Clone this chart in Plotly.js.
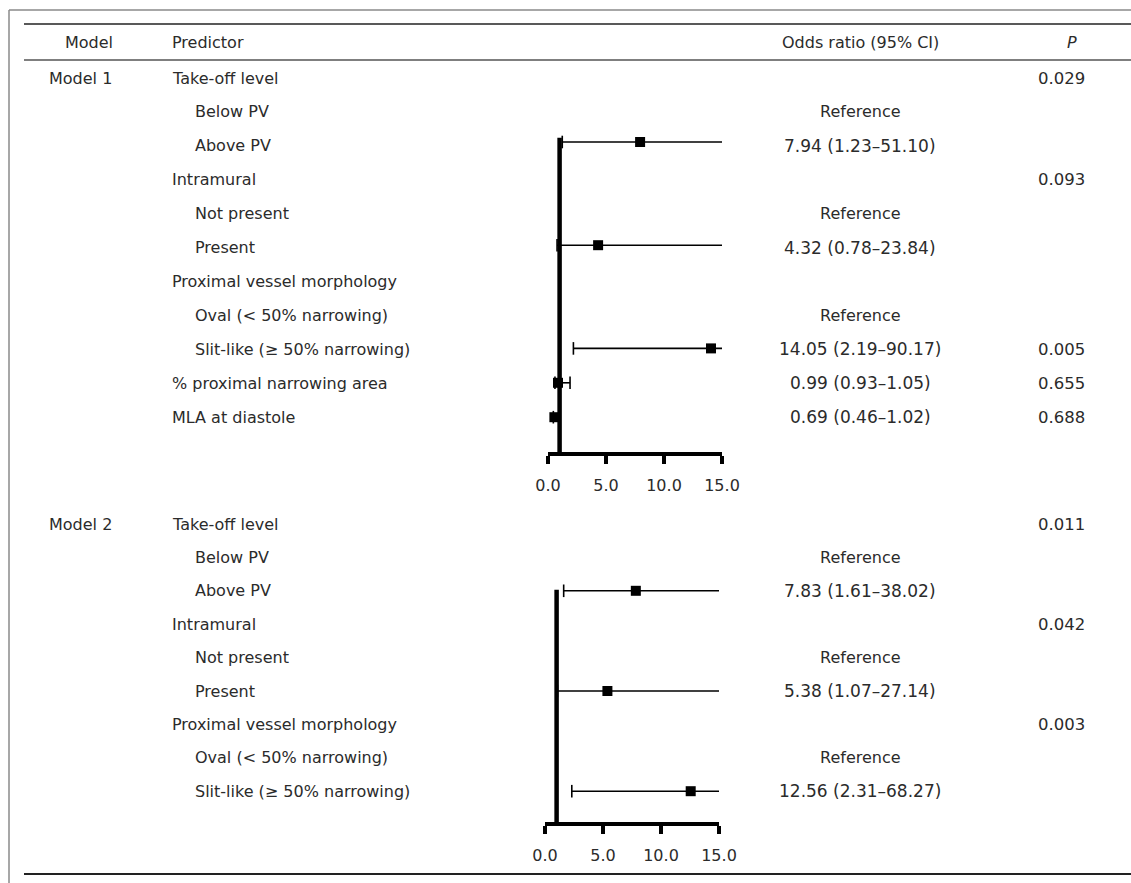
<!DOCTYPE html>
<html>
<head>
<meta charset="utf-8">
<script src="https://cdn.plot.ly/plotly-3.0.1.min.js"></script>
<style>
html,body{margin:0;padding:0;background:#fff;}
#chart{width:1131px;height:883px;}
</style>
</head>
<body>
<div id="chart"></div>
<script>
// ---------- DATA ----------
const headers = ["Model", "Predictor", "Odds ratio (95% CI)", "P"];

const m1Name = "Model 1";
const m1Rows = ["Take-off level", "Below PV", "Above PV", "Intramural", "Not present", "Present",
  "Proximal vessel morphology", "Oval (< 50% narrowing)", "Slit-like (≥ 50% narrowing)",
  "% proximal narrowing area", "MLA at diastole"];
const m1Indent = [0, 1, 1, 0, 1, 1, 0, 1, 1, 0, 0];
const m1OrText = ["", "Reference", "7.94 (1.23–51.10)", "", "Reference", "4.32 (0.78–23.84)", "",
  "Reference", "14.05 (2.19–90.17)", "0.99 (0.93–1.05)", "0.69 (0.46–1.02)"];
const m1P = ["0.029", "", "", "0.093", "", "", "", "", "0.005", "0.655", "0.688"];
// plotted estimates (as drawn in the figure)
const m1PlotRow = [2, 5, 8, 9, 10];
const m1OR = [7.94, 4.32, 14.05, 0.86, 0.55];
const m1Lo = [1.23, 0.78, 2.19, 0.6, 0.46];
const m1Hi = [51.10, 23.84, 90.17, 1.9, 1.02];

const m2Name = "Model 2";
const m2Rows = ["Take-off level", "Below PV", "Above PV", "Intramural", "Not present", "Present",
  "Proximal vessel morphology", "Oval (< 50% narrowing)", "Slit-like (≥ 50% narrowing)"];
const m2Indent = [0, 1, 1, 0, 1, 1, 0, 1, 1];
const m2OrText = ["", "Reference", "7.83 (1.61–38.02)", "", "Reference", "5.38 (1.07–27.14)", "",
  "Reference", "12.56 (2.31–68.27)"];
const m2P = ["0.011", "", "", "0.042", "", "", "0.003", "", ""];
const m2PlotRow = [2, 5, 8];
const m2OR = [7.83, 5.38, 12.56];
const m2Lo = [1.61, 1.07, 2.31];
const m2Hi = [38.02, 27.14, 68.27];

const tickVals = [0, 5, 10, 15];
const tickText = ["0.0", "5.0", "10.0", "15.0"];
const refValue = 1;

// ---------- LAYOUT HELPERS ----------
const W = 1131, H = 883;
const px = v => v / W;
const py = v => 1 - v / H;
const FONT = "DejaVu Sans, Verdana, sans-serif";
const TXT = "#2b2b2b";
const FS = 16;
const xMax = tickVals[tickVals.length - 1];

// text row mapping (pixels)
const m1TextY = i => 78 + 33.9 * i;
const m2TextY = i => 524 + 33.4 * i;
// forest mapping (pixels per row) used to set axis ranges
const f1 = {y0: 73.2, step: 34.4, top: 100, bottom: 452, refTop: 1.88};
const f2 = {y0: 524, step: 33.4, top: 560, bottom: 822, refTop: 1.97};

const annotations = [];
function addText(text, x, y, anchor, size) {
  annotations.push({
    text: text, xref: "paper", yref: "paper", x: px(x), y: py(y),
    xanchor: anchor, yanchor: "middle", showarrow: false,
    font: {family: FONT, size: size || FS, color: TXT}
  });
}
// headers
addText(headers[0], 63, 43, "left");
addText(headers[1], 170, 43, "left");
addText(headers[2], 860, 43, "center");
addText("<i>" + headers[3] + "</i>", 1072, 43, "center");

function addModel(name, rows, indent, orText, pvals, yMap) {
  addText(name, 47, yMap(0), "left");
  rows.forEach((r, i) => {
    const y = yMap(i);
    addText(r, indent[i] ? 193 : 170, y, "left");
    if (orText[i]) addText(orText[i], 860, y, "center", orText[i] === "Reference" ? FS : 17);
    if (pvals[i]) addText(pvals[i], 1061, y, "center", 16.5);
  });
}
addModel(m1Name, m1Rows, m1Indent, m1OrText, m1P, m1TextY);
addModel(m2Name, m2Rows, m2Indent, m2OrText, m2P, m2TextY);

// ---------- TRACES ----------
function forestTraces(rows, or, lo, hi, xa, ya) {
  const lx = [], ly = [], cx = [], cy = [];
  rows.forEach((r, i) => {
    const l = Math.max(lo[i], 0), h = Math.min(hi[i], xMax);
    lx.push(l, h, null); ly.push(r, r, null);
    if (lo[i] >= 0) { cx.push(lo[i]); cy.push(r); }
    if (hi[i] <= xMax) { cx.push(hi[i]); cy.push(r); }
  });
  return [
    {x: lx, y: ly, xaxis: xa, yaxis: ya, mode: "lines", type: "scatter",
     line: {color: "#000", width: 1.6}, hoverinfo: "skip", cliponaxis: false},
    {x: cx, y: cy, xaxis: xa, yaxis: ya, mode: "markers", type: "scatter",
     marker: {symbol: "line-ns", size: 9, line: {color: "#000", width: 1.6}},
     hoverinfo: "skip", cliponaxis: false},
    {x: or, y: rows, xaxis: xa, yaxis: ya, mode: "markers", type: "scatter",
     marker: {symbol: "square", size: 10, color: "#000"}, cliponaxis: false}
  ];
}
const traces = [].concat(
  forestTraces(m1PlotRow, m1OR, m1Lo, m1Hi, "x", "y"),
  forestTraces(m2PlotRow, m2OR, m2Lo, m2Hi, "x2", "y2")
);

function xAxis(domain, anchor) {
  return {
    domain: domain, range: [0, xMax], anchor: anchor, fixedrange: true,
    tickvals: tickVals, ticktext: tickText, ticks: "outside", ticklen: 8,
    tickwidth: 3.5, tickcolor: "#000", showline: true, linewidth: 4, linecolor: "#000",
    showgrid: false, zeroline: false, ticklabelstandoff: 8,
    tickfont: {family: FONT, size: FS, color: TXT}
  };
}
function yAxis(f) {
  return {
    domain: [py(f.bottom), py(f.top)],
    range: [(f.bottom - f.y0) / f.step, (f.top - f.y0) / f.step],
    visible: false, fixedrange: true
  };
}

const lineShape = (x0, y0, x1, y1, color, width) => ({
  type: "line", xref: "paper", yref: "paper",
  x0: px(x0), y0: py(y0), x1: px(x1), y1: py(y1),
  line: {color: color, width: width}
});
const y1Range = yAxis(f1).range, y2Range = yAxis(f2).range;
const shapes = [
  lineShape(9, 10, W, 10, "#8a8a8a", 1.5),
  lineShape(9, 10, 9, H, "#8a8a8a", 1.5),
  lineShape(24, 24, W, 24, "#222", 1.5),
  lineShape(24, 60, W, 60, "#555", 1.5),
  lineShape(24, 874, W, 874, "#222", 2),
  {type: "line", xref: "x", yref: "y", x0: refValue, x1: refValue, y0: f1.refTop, y1: y1Range[0],
   line: {color: "#000", width: 4.5}},
  {type: "line", xref: "x2", yref: "y2", x0: refValue, x1: refValue, y0: f2.refTop, y1: y2Range[0],
   line: {color: "#000", width: 4.5}}
];

const layout = {
  width: W, height: H,
  margin: {l: 0, r: 0, t: 0, b: 0},
  paper_bgcolor: "#fff", plot_bgcolor: "rgba(0,0,0,0)",
  showlegend: false,
  xaxis: xAxis([px(548), px(722)], "y"),
  yaxis: yAxis(f1),
  xaxis2: xAxis([px(545), px(719)], "y2"),
  yaxis2: yAxis(f2),
  annotations: annotations,
  shapes: shapes
};

Plotly.newPlot("chart", traces, layout, {staticPlot: true, displayModeBar: false});
</script>
</body>
</html>
